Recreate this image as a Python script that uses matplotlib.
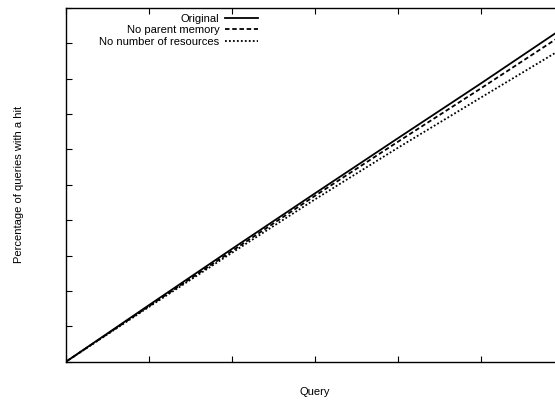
import matplotlib
matplotlib.use("Agg")
import matplotlib.pyplot as plt

plt.rcParams['font.family'] = ['Liberation Sans', 'DejaVu Sans']

# values
queries = [0, 1000, 2000, 3000, 4000, 5000, 6000]
original = [0, 16.0, 31.9, 47.6, 63.2, 78.7, 94.5]
no_parent_memory = [0, 15.7, 31.3, 46.9, 62.2, 77.3, 92.7]
no_num_resources = [0, 15.5, 30.8, 45.9, 60.5, 74.7, 88.8]
labels = ["Original", "No parent memory", "No number of resources"]

fig = plt.figure(figsize=(5.55, 4.01), dpi=100)
# the right side of the plot is cut off in the reference, so the axes run past the figure edge
ax = fig.add_axes([0.1189, 0.098, 0.8973, 0.882])

ax.plot(queries, original, color='black', lw=1.3, label=labels[0])
ax.plot(queries, no_parent_memory, color='black', lw=1.3, dashes=(2.5, 1.5), label=labels[1])
ax.plot(queries, no_num_resources, color='black', lw=1.3, dashes=(1, 1.2), label=labels[2])

ax.set_xlim(0, 6000)
ax.set_ylim(0, 100)
ax.set_xticks(range(0, 6001, 1000))
ax.set_yticks(range(0, 101, 10))
ax.tick_params(direction='in', length=4, width=0.8, top=True, right=True,
               labelbottom=False, labelleft=False)
for s in ax.spines.values():
    s.set_linewidth(1.0)

ax.set_xlabel("Query", fontsize=8, labelpad=18)
ax.set_ylabel("Percentage of queries with a hit", fontsize=8, labelpad=30)

ax.legend(loc='upper right', bbox_to_anchor=(0.386, 0.983), frameon=False,
          markerfirst=False, fontsize=8, handlelength=3.0, handletextpad=0.5,
          labelspacing=0.12, borderpad=0, borderaxespad=0)

fig.savefig("out.png", dpi=100)
